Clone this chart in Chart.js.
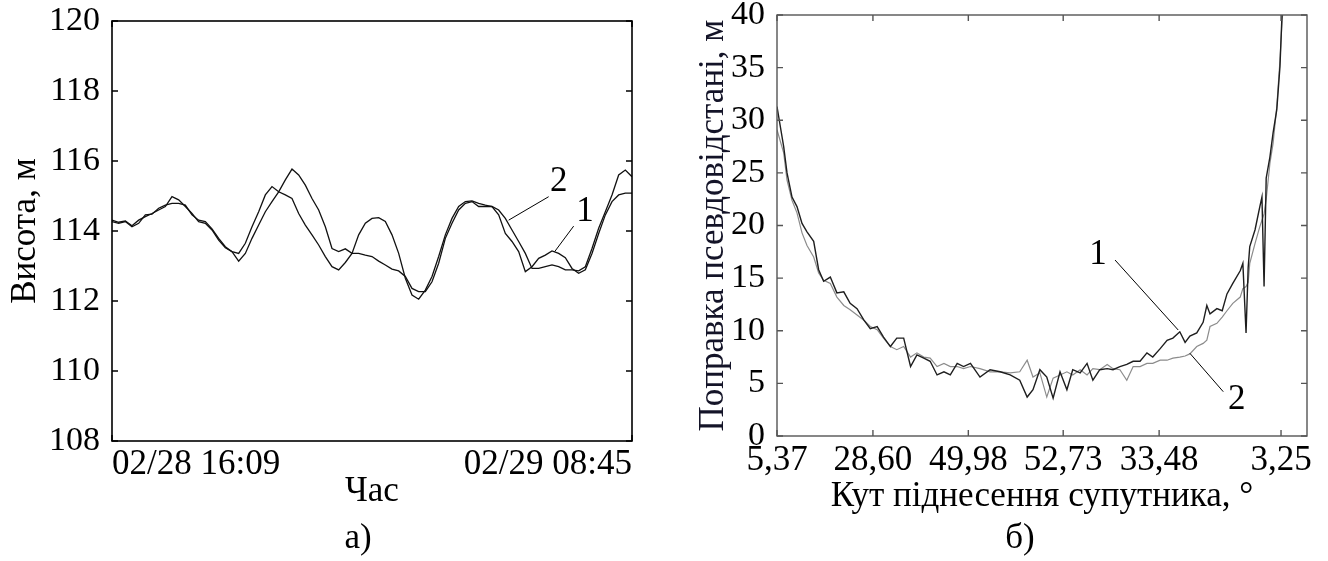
<!DOCTYPE html>
<html>
<head>
<meta charset="utf-8">
<script src="https://cdn.jsdelivr.net/npm/chart.js@4.4.1/dist/chart.umd.min.js"></script>
<style>
  body { margin: 0; background: #fff; }
  #wrap { position: relative; width: 1328px; height: 561px; overflow: hidden; }
  canvas { position: absolute; top: 0; }
  .cap { position: absolute; font: 35px "Liberation Serif", serif; color: #000; transform: translate(-50%, -50%); }
</style>
</head>
<body>
<div id="wrap">
  <canvas id="chartA" width="664" height="561" style="left:0"></canvas>
  <canvas id="chartB" width="664" height="561" style="left:664px"></canvas>
  <div class="cap" style="left:358px; top:537px">а)</div>
  <div class="cap" style="left:1020px; top:537px">б)</div>
</div>
<script>
// ---- chart a) : height over time (two solutions), one sample per step
const timeLabels = ['02/28 16:09', '02/29 08:45'];
const height1 = [
  114.31, 114.25, 114.29, 114.15, 114.31, 114.41, 114.50, 114.60, 114.70, 114.98,
  114.89, 114.70, 114.50, 114.27, 114.22, 114.03, 113.74, 113.52, 113.41, 113.36,
  113.65, 114.12, 114.55, 115.03, 115.27, 115.12, 115.03, 114.93, 114.50, 114.17,
  113.89, 113.60, 113.27, 112.98, 112.89, 113.10, 113.36, 113.89, 114.22,
  114.36, 114.38, 114.27, 113.89, 113.36, 112.65, 112.17, 112.05, 112.31, 112.70,
  113.27, 113.89, 114.36, 114.70, 114.84, 114.86, 114.79, 114.74, 114.70, 114.46,
  113.93, 113.70, 113.41, 112.84, 112.98, 113.22, 113.31, 113.43, 113.36, 113.24,
  112.93, 112.79, 112.89, 113.36, 113.93, 114.46, 114.84, 115.03, 115.08, 115.08
];
const height2 = [
  114.27, 114.22, 114.27, 114.12, 114.22, 114.46, 114.48, 114.65, 114.74, 114.79,
  114.79, 114.74, 114.46, 114.31, 114.27, 114.06, 113.79, 113.55, 113.41, 113.14,
  113.36, 113.79, 114.17, 114.55, 114.84, 115.12, 115.46, 115.77, 115.60, 115.31,
  114.93, 114.60, 114.12, 113.50, 113.41, 113.49, 113.36, 113.36, 113.31,
  113.27, 113.14, 113.03, 112.91, 112.86, 112.70, 112.36, 112.27, 112.27, 112.55,
  113.08, 113.79, 114.22, 114.60, 114.79, 114.84, 114.70, 114.70, 114.70, 114.60,
  114.36, 114.03, 113.70, 113.36, 112.93, 112.93, 112.98, 113.03, 112.98, 112.89,
  112.89, 112.86, 112.98, 113.50, 114.08, 114.55, 115.03, 115.60, 115.74, 115.55
];
const heightMin = 108, heightMax = 120, heightStep = 2;
// callouts: label position and leader line, in data units
const notesA = [
  { t: '2', x: 67.0, y: 115.41, line: [65.5, 114.98, 59.5, 114.31] },
  { t: '1', x: 70.95, y: 114.55, line: [69.25, 114.14, 66.4, 113.41] }
];

// ---- chart б) : pseudorange correction over the pass
const epoch = [
  0, 12.6, 18.9, 28.3, 37.7, 47.2, 56.6, 69.2, 78.6, 88,
  100.6, 113, 126, 138, 151, 164, 176, 189, 201, 214,
  226, 239, 252, 264, 277, 289, 302, 315, 327, 340,
  352, 365, 383, 402, 421, 440, 458, 472, 483, 496,
  509, 521, 534, 547, 558, 572, 585, 596, 609, 623,
  634, 647, 660, 672, 685, 698, 709, 723, 736, 747,
  760, 770, 779, 792, 804, 811, 817, 830, 840, 849,
  860, 874, 879, 885, 889, 892, 902, 911, 915, 919,
  923, 930, 936, 943, 949, 953, 956
];
const corr1 = [
  31.3, 27.5, 25.0, 22.7, 21.8, 20.2, 19.4, 18.5, 15.8, 14.7,
  15.1, 13.6, 13.7, 12.6, 12.1, 11.0, 10.2, 10.4, 9.4, 8.5,
  9.3, 9.3, 6.6, 7.7, 7.4, 7.1, 5.8, 6.1, 5.8, 6.9,
  6.6, 6.9, 5.6, 6.3, 6.1, 5.8, 5.3, 3.7, 4.4, 6.3,
  5.6, 3.6, 6.1, 4.4, 6.3, 6.0, 6.9, 5.3, 6.3, 6.4,
  6.3, 6.6, 6.8, 7.1, 7.1, 7.9, 7.5, 8.3, 9.1, 9.3,
  9.9, 8.9, 9.5, 9.8, 10.8, 12.4, 11.6, 12.1, 11.9, 13.5,
  14.5, 15.7, 16.4, 9.8, 16.0, 18.0, 19.6, 21.8, 22.7, 14.2,
  24.5, 26.5, 28.8, 31.0, 35.1, 40.2, 42
];
const corr2 = [
  29.1, 26.9, 24.3, 22.4, 21.2, 19.3, 18.1, 17.0, 15.5, 14.8,
  14.5, 13.2, 12.4, 12.0, 11.5, 11.0, 10.4, 10.1, 9.3, 8.5,
  8.2, 8.5, 7.5, 7.9, 7.5, 7.4, 6.6, 6.9, 6.6, 6.6,
  6.4, 6.6, 6.4, 6.1, 6.1, 6.0, 6.1, 7.2, 5.6, 6.0,
  3.7, 5.5, 5.8, 6.1, 5.8, 6.3, 5.8, 6.4, 6.3, 6.8,
  6.4, 6.3, 5.3, 6.6, 6.6, 6.9, 6.9, 7.2, 7.2, 7.4,
  7.5, 7.6, 7.8, 8.5, 8.8, 9.1, 10.4, 10.7, 11.3, 11.9,
  12.6, 13.2, 14.0, 14.2, 14.6, 16.4, 18.3, 19.9, 20.5, 21.1,
  22.5, 25.9, 27.8, 31.3, 35.7, 39.5, 41
];
const epochMax = 1000;
const angleTickPos = [0, 181, 361, 540, 721, 951];
const angleLabels = ['5,37', '28,60', '49,98', '52,73', '33,48', '3,25'];
const corrMin = 0, corrMax = 40, corrStep = 5;
const notesB = [
  { t: '1', x: 605.7, y: 17.2, line: [637.8, 16.72, 757, 10.07] },
  { t: '2', x: 867.5, y: 3.42, line: [842, 4.21, 779, 7.86] }
];

const FONT = '"Liberation Serif", "DejaVu Serif", serif';

// box frame with inward ticks plus numbered callouts
const framePlugin = {
  id: 'frame',
  afterDraw(chart, args, o) {
    const { ctx, chartArea: a, scales: { x, y } } = chart;
    const L = 6;
    ctx.save();
    ctx.strokeStyle = o.color;
    ctx.lineWidth = o.width;
    ctx.strokeRect(a.left, a.top, a.right - a.left, a.bottom - a.top);
    ctx.beginPath();
    y.ticks.forEach(t => {
      const p = y.getPixelForValue(t.value);
      ctx.moveTo(a.left, p); ctx.lineTo(a.left + L, p);
      ctx.moveTo(a.right, p); ctx.lineTo(a.right - L, p);
    });
    x.ticks.forEach(t => {
      const p = x.getPixelForValue(t.value);
      ctx.moveTo(p, a.bottom); ctx.lineTo(p, a.bottom - L);
      ctx.moveTo(p, a.top); ctx.lineTo(p, a.top + L);
    });
    ctx.stroke();

    ctx.strokeStyle = '#000';
    ctx.fillStyle = '#000';
    ctx.lineWidth = 1;
    ctx.font = '35px ' + FONT;
    ctx.textAlign = 'center';
    ctx.textBaseline = 'middle';
    (o.notes || []).forEach(n => {
      ctx.beginPath();
      ctx.moveTo(x.getPixelForValue(n.line[0]), y.getPixelForValue(n.line[1]));
      ctx.lineTo(x.getPixelForValue(n.line[2]), y.getPixelForValue(n.line[3]));
      ctx.stroke();
      ctx.fillText(n.t, x.getPixelForValue(n.x), y.getPixelForValue(n.y));
    });
    ctx.restore();
  }
};

Chart.defaults.font.family = FONT;
Chart.defaults.color = '#000';

const yTickFont = { size: 34, family: FONT };
const xTickFont = { size: 35, family: FONT };
const titleFont = { size: 35, family: FONT };
const noPadX = s => { s.paddingLeft = 0; s.paddingRight = 0; };
const noPadY = s => { s.paddingTop = 0; s.paddingBottom = 0; };

// ---------- a)
new Chart(document.getElementById('chartA'), {
  type: 'line',
  data: {
    datasets: [
      { label: '1', data: height1.map((v, i) => ({ x: i, y: v })), borderColor: '#111', borderWidth: 1.3, pointRadius: 0, tension: 0 },
      { label: '2', data: height2.map((v, i) => ({ x: i, y: v })), borderColor: '#111', borderWidth: 1.3, pointRadius: 0, tension: 0 }
    ]
  },
  options: {
    responsive: false,
    animation: false,
    events: [],
    layout: { padding: { top: 21, right: 32, left: 0, bottom: 0 } },
    plugins: {
      legend: { display: false },
      tooltip: { enabled: false },
      frame: { color: '#000', width: 1.6, notes: notesA }
    },
    scales: {
      x: {
        type: 'linear',
        min: 0,
        max: height1.length - 1,
        grid: { display: false, drawTicks: false },
        border: { display: false },
        afterBuildTicks: s => { s.ticks = [{ value: 0 }, { value: height1.length - 1 }]; },
        afterFit: s => { s.height = 120; noPadX(s); },
        ticks: {
          font: xTickFont,
          padding: 3,
          align: 'inner',
          maxRotation: 0,
          callback: v => (v === 0 ? timeLabels[0] : timeLabels[1])
        },
        title: { display: true, text: 'Час', font: titleFont, padding: { top: 0, bottom: 48 } }
      },
      y: {
        min: heightMin,
        max: heightMax,
        grid: { display: false, drawTicks: false },
        border: { display: false },
        afterFit: s => { s.width = 112; noPadY(s); },
        ticks: { font: yTickFont, padding: 12, stepSize: heightStep },
        title: { display: true, text: 'Висота, м', font: titleFont, padding: { top: 5, bottom: 0 } }
      }
    }
  },
  plugins: [framePlugin]
});

// ---------- б)
new Chart(document.getElementById('chartB'), {
  type: 'line',
  data: {
    datasets: [
      { label: '1', data: corr1.map((v, i) => ({ x: epoch[i], y: v })), borderColor: '#1e1e1e', borderWidth: 1.4, pointRadius: 0, tension: 0 },
      { label: '2', data: corr2.map((v, i) => ({ x: epoch[i], y: v })), borderColor: '#8c8c8c', borderWidth: 1.2, pointRadius: 0, tension: 0 }
    ]
  },
  options: {
    responsive: false,
    animation: false,
    events: [],
    layout: { padding: { top: 15, right: 21, left: 0, bottom: 0 } },
    plugins: {
      legend: { display: false },
      tooltip: { enabled: false },
      frame: { color: '#555', width: 1.4, notes: notesB }
    },
    scales: {
      x: {
        type: 'linear',
        min: 0,
        max: epochMax,
        grid: { display: false, drawTicks: false },
        border: { display: false },
        afterBuildTicks: s => { s.ticks = angleTickPos.map(v => ({ value: v })); },
        afterFit: s => { s.height = 125; noPadX(s); },
        ticks: {
          font: xTickFont,
          padding: 4,
          maxRotation: 0,
          autoSkip: false,
          callback: v => angleLabels[angleTickPos.indexOf(v)]
        },
        title: { display: true, text: 'Кут піднесення супутника, °', font: titleFont, padding: { top: 0, bottom: 43 } }
      },
      y: {
        min: corrMin,
        max: corrMax,
        grid: { display: false, drawTicks: false },
        border: { display: false },
        afterFit: s => { s.width = 113; noPadY(s); },
        ticks: { font: yTickFont, padding: 12, stepSize: corrStep },
        title: { display: true, text: 'Поправка псевдовідстані, м', color: '#141428', font: titleFont, padding: { top: 29, bottom: 0 } }
      }
    }
  },
  plugins: [framePlugin]
});
</script>
</body>
</html>
